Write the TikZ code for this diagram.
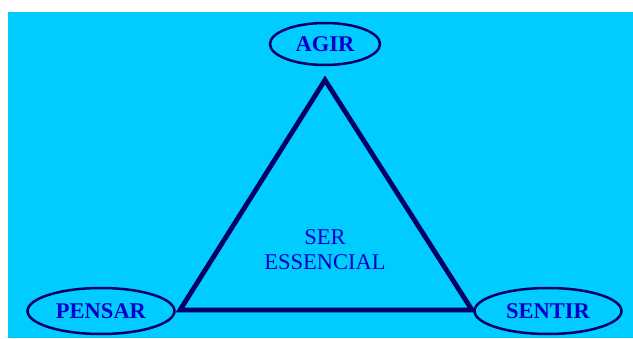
\documentclass[tikz,border=0pt]{standalone}
\usepackage{fontspec}
\setmainfont{Liberation Serif}
\usetikzlibrary{shapes.geometric}

\definecolor{fundo}{HTML}{00CCFF}
\definecolor{traco}{HTML}{000066}
\definecolor{letra}{HTML}{0000CC}

\tikzset{
    polo/.style={ellipse, draw=traco, line width=2.5pt, text=letra,
        font=\fontsize{22.5}{24}\selectfont\bfseries, inner sep=0pt},
    centro/.style={text=letra, align=center,
        font=\fontsize{22.5}{25}\selectfont}
}

\begin{document}
\begin{tikzpicture}[x=1pt, y=1pt]
    % background
    \useasboundingbox (0,0) rectangle (633,338);
    \fill[fundo] (8,0) rectangle (633,326);

    % Define points for the triangle
    \coordinate (topo) at (325,258);
    \coordinate (esq) at (180,28);
    \coordinate (dir) at (472,28);

    % Draw the triangle
    \draw[traco, line width=4.8pt, line join=miter] (topo) -- (esq) -- (dir) -- cycle;

    % Draw the three ellipses
    \node[polo, minimum width=110pt, minimum height=42pt] (agir) at (325,294) {AGIR};
    \node[polo, minimum width=147pt, minimum height=46pt] (pensar) at (101,27) {PENSAR};
    \node[polo, minimum width=147pt, minimum height=46pt] (sentir) at (548,27) {SENTIR};

    % Label in the middle
    \node[centro] (ser) at (325,88) {SER\\ESSENCIAL};
\end{tikzpicture}
\end{document}
